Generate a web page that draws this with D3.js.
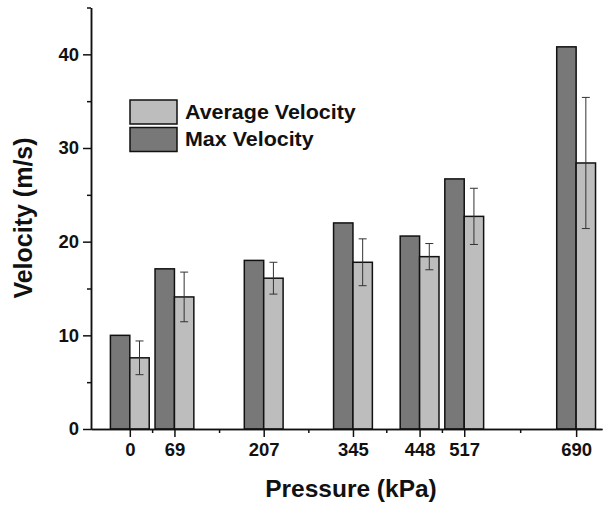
<!DOCTYPE html>
<html>
<head>
<meta charset="UTF-8">
<script src="https://cdn.jsdelivr.net/npm/d3@7"></script>
<style>
body{
    margin:0;
    background-color:#fff;
    font-family:"Liberation Sans", Arial, sans-serif;
}
.axis path, .axis line{
    stroke:#111;
    stroke-width:1.5;
}
.axis text{
    font-weight:bold;
    font-size:18.5px;
    fill:#111;
}
</style>
</head>
<body>
<script>

var pressures = [0, 69, 207, 345, 448, 517, 690];
var maxVelocity = [10.0, 17.1, 18.0, 22.0, 20.6, 26.7, 40.8];
var avgVelocity = [7.6, 14.1, 16.1, 17.8, 18.4, 22.7, 28.4];
var avgError = [1.8, 2.65, 1.7, 2.5, 1.4, 3.0, 7.0];
var yTicks = [0, 10, 20, 30, 40];
var seriesNames = ["Average Velocity", "Max Velocity"];

var width = 604, height = 506;
var barW = 30; // in kPa units

var x = d3.scaleLinear().domain([-60, 730]).range([91, 602]);
var y = d3.scaleLinear().domain([0, 45]).range([429, 7.5]);

var svg = d3.select("body").append("svg")
    .attr("width", width)
    .attr("height", height);

var data = pressures.map(function(p, i){
    return {p:p, max:maxVelocity[i], avg:avgVelocity[i], err:avgError[i]};
});

// minor ticks halfway between pressures
var xMinor = [];
for (var i = 0; i < pressures.length - 1; i++) xMinor.push((pressures[i] + pressures[i+1]) / 2);
var yMinor = yTicks.map(function(t){ return t + 5; });

// bars
svg.selectAll(".maxbar")
    .data(data)
    .enter().append("rect")
    .attr("class", "maxbar")
    .attr("x", function(d){ return x(d.p - barW); })
    .attr("y", function(d){ return y(d.max); })
    .attr("width", function(d){ return x(d.p) - x(d.p - barW); })
    .attr("height", function(d){ return y(0) - y(d.max); })
    .attr("fill", "#787878")
    .attr("stroke", "#111")
    .attr("stroke-width", 1.5);

svg.selectAll(".avgbar")
    .data(data)
    .enter().append("rect")
    .attr("class", "avgbar")
    .attr("x", function(d){ return x(d.p); })
    .attr("y", function(d){ return y(d.avg); })
    .attr("width", function(d){ return x(d.p + barW) - x(d.p); })
    .attr("height", function(d){ return y(0) - y(d.avg); })
    .attr("fill", "#bdbdbd")
    .attr("stroke", "#111")
    .attr("stroke-width", 1.5);

// error bars
var eb = svg.selectAll(".err")
    .data(data)
    .enter().append("g")
    .attr("class", "err")
    .attr("stroke", "#333")
    .attr("stroke-width", 1);
eb.append("line")
    .attr("x1", function(d){ return x(d.p + barW/2); })
    .attr("x2", function(d){ return x(d.p + barW/2); })
    .attr("y1", function(d){ return y(d.avg + d.err); })
    .attr("y2", function(d){ return y(d.avg - d.err); });
eb.append("line")
    .attr("x1", function(d){ return x(d.p + barW/2) - 4; })
    .attr("x2", function(d){ return x(d.p + barW/2) + 4; })
    .attr("y1", function(d){ return y(d.avg + d.err); })
    .attr("y2", function(d){ return y(d.avg + d.err); });
eb.append("line")
    .attr("x1", function(d){ return x(d.p + barW/2) - 4; })
    .attr("x2", function(d){ return x(d.p + barW/2) + 4; })
    .attr("y1", function(d){ return y(d.avg - d.err); })
    .attr("y2", function(d){ return y(d.avg - d.err); });

// axes
svg.append("g")
    .attr("class", "axis")
    .attr("transform", "translate(0," + y(0) + ")")
    .call(d3.axisBottom(x).tickValues(xMinor).tickSize(4).tickSizeOuter(0).tickFormat(""));
svg.append("g")
    .attr("class", "axis")
    .attr("transform", "translate(0," + y(0) + ")")
    .call(d3.axisBottom(x).tickValues(pressures).tickSize(8).tickPadding(6).tickSizeOuter(0));

svg.append("g")
    .attr("class", "axis")
    .attr("transform", "translate(" + x(-60) + ",0)")
    .call(d3.axisLeft(y).tickValues(yMinor).tickSize(4).tickSizeOuter(0).tickFormat(""));
svg.append("g")
    .attr("class", "axis")
    .attr("transform", "translate(" + x(-60) + ",0)")
    .call(d3.axisLeft(y).tickValues(yTicks).tickSize(8).tickPadding(4).tickSizeOuter(0));

// axis titles
svg.append("text")
    .attr("x", 351)
    .attr("y", 497)
    .attr("text-anchor", "middle")
    .attr("font-size", 24.5)
    .attr("font-weight", "bold")
    .attr("fill", "#111")
    .text("Pressure (kPa)");

svg.append("text")
    .attr("transform", "translate(32,218) rotate(-90)")
    .attr("text-anchor", "middle")
    .attr("font-size", 25)
    .attr("font-weight", "bold")
    .attr("fill", "#111")
    .text("Velocity (m/s)");

// legend
var legendColors = ["#bdbdbd", "#787878"];
var leg = svg.selectAll(".leg")
    .data(seriesNames)
    .enter().append("g")
    .attr("class", "leg")
    .attr("transform", function(d, i){ return "translate(130," + (100 + i * 27.5) + ")"; });
leg.append("rect")
    .attr("width", 47)
    .attr("height", 24)
    .attr("fill", function(d, i){ return legendColors[i]; })
    .attr("stroke", "#111")
    .attr("stroke-width", 1.5);
leg.append("text")
    .attr("transform", "translate(55,18.5) scale(1.1,1)")
    .attr("font-size", 19.5)
    .attr("font-weight", "bold")
    .attr("fill", "#111")
    .text(function(d){ return d; });

</script>
</body>
</html>
